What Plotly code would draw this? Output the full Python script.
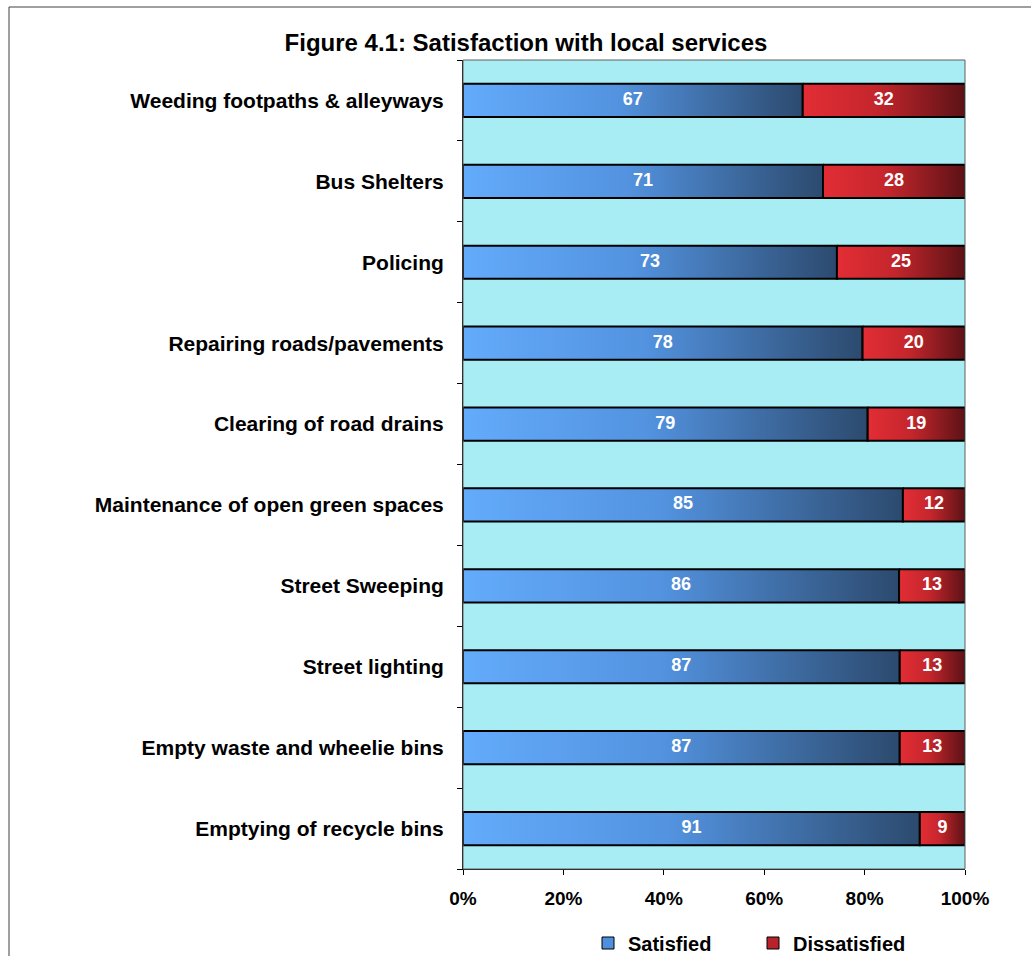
import plotly.graph_objects as go

# Survey results: share of respondents satisfied / dissatisfied with each service
services = [
    "Weeding footpaths & alleyways",
    "Bus Shelters",
    "Policing",
    "Repairing roads/pavements",
    "Clearing of road drains",
    "Maintenance of open green spaces",
    "Street Sweeping",
    "Street lighting",
    "Empty waste and wheelie bins",
    "Emptying of recycle bins",
]
satisfied = [67, 71, 73, 78, 79, 85, 86, 87, 87, 91]
dissatisfied = [32, 28, 25, 20, 19, 12, 13, 13, 13, 9]
x_ticks = [0, 20, 40, 60, 80, 100]
x_tick_labels = ["0%", "20%", "40%", "60%", "80%", "100%"]

W, H = 1031, 956
ML, MR, MT, MB = 463, 66, 60, 87
FONT = "Arial, Liberation Sans, sans-serif"
BAR_HALF = 0.205

blue_scale = [[0, "#63abfb"], [0.45, "#5393e0"], [1, "#2c4a6e"]]
red_scale = [[0, "#e32d35"], [0.45, "#c4262c"], [1, "#5c1216"]]

fig = go.Figure()


def add_segment(x0, x1, yc, scale):
    fig.add_trace(go.Scatter(
        x=[x0, x1, x1, x0, x0],
        y=[yc - BAR_HALF, yc - BAR_HALF, yc + BAR_HALF, yc + BAR_HALF, yc - BAR_HALF],
        mode="lines",
        fill="toself",
        fillgradient=dict(type="horizontal", colorscale=scale),
        line=dict(color="black", width=2),
        showlegend=False,
        hoverinfo="skip",
    ))


label_x, label_y, label_t = [], [], []
for i, (s, d) in enumerate(zip(satisfied, dissatisfied)):
    total = s + d
    ps = s / total * 100
    add_segment(0, ps, i, blue_scale)
    add_segment(ps, 100, i, red_scale)
    label_x += [ps / 2, ps + (100 - ps) / 2]
    label_y += [i, i]
    label_t += [str(s), str(d)]

fig.add_trace(go.Scatter(
    x=label_x, y=label_y, text=label_t, mode="text",
    textfont=dict(family=FONT, size=18, color="white", weight="bold"),
    showlegend=False, hoverinfo="skip",
))

# Legend entries
for name, col in [("Satisfied", "#4f8fdc"), ("Dissatisfied", "#b8222a")]:
    fig.add_trace(go.Bar(
        x=[None], y=[None], name=name, orientation="h",
        marker=dict(color=col, line=dict(color="black", width=1)),
    ))

pw = W - ML - MR
ph = H - MT - MB

fig.update_layout(
    width=W, height=H,
    margin=dict(l=ML, r=MR, t=MT, b=MB, pad=0, autoexpand=False),
    paper_bgcolor="white",
    plot_bgcolor="#a8ecf4",
    font=dict(family=FONT, color="black"),
    title=dict(
        text="<b>Figure 4.1: Satisfaction with local services</b>",
        x=526 / W, xref="container", xanchor="center",
        y=1 - 43 / H, yref="container", yanchor="middle",
        font=dict(size=24, family=FONT, color="black"),
    ),
    xaxis=dict(
        range=[0, 100], tickmode="array", tickvals=x_ticks, ticktext=x_tick_labels,
        ticks="outside", ticklen=5, tickcolor="black",
        showline=True, linecolor="black", linewidth=1,
        showgrid=False, zeroline=False, mirror=False,
        ticklabelstandoff=7,
        tickfont=dict(size=19, family=FONT, weight="bold"),
        fixedrange=True,
    ),
    yaxis=dict(
        range=[len(services) - 0.5, -0.5],
        tickmode="array",
        tickvals=list(range(len(services))), ticktext=services,
        ticks="", ticklabelstandoff=14,
        minor=dict(tickvals=[i + 0.5 for i in range(-1, len(services))],
                   ticks="outside", ticklen=5, tickcolor="black", showgrid=False),
        showline=True, linecolor="black", linewidth=1,
        showgrid=False, zeroline=False,
        tickfont=dict(size=21, family=FONT, weight="bold"),
        fixedrange=True,
    ),
    legend=dict(
        orientation="h", xref="container", x=588 / W, xanchor="left",
        yref="container", y=1 - 943 / H, yanchor="middle",
        font=dict(size=20, family=FONT, weight="bold"),
        bgcolor="rgba(0,0,0,0)", entrywidth=120, itemwidth=30,
    ),
    showlegend=True,
    barmode="overlay",
)

# plot area outline on the top/right sides
fig.add_shape(type="rect", xref="paper", yref="paper", x0=0, x1=1, y0=0, y1=1,
              line=dict(color="#606060", width=1), fillcolor="rgba(0,0,0,0)", layer="above")

# outer chart frame (top and left edges visible)
fx0 = (9 - ML) / pw
fy1 = 1 + (MT - 7) / ph
fig.add_shape(type="line", xref="paper", yref="paper", x0=fx0, x1=(W - ML) / pw + 0.01,
              y0=fy1, y1=fy1, line=dict(color="#404040", width=1))
fig.add_shape(type="line", xref="paper", yref="paper", x0=fx0, x1=fx0,
              y0=fy1, y1=-(MB + 20) / ph, line=dict(color="#404040", width=1))

fig.write_html("out.html")
